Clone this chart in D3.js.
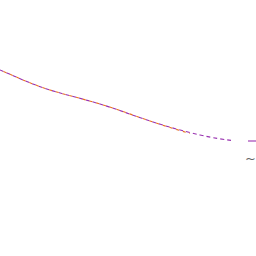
<!DOCTYPE html>
<html><head><meta charset="utf-8">
<script src="https://cdn.jsdelivr.net/npm/d3@7"></script>
<style>body{margin:0;background:#fff}svg{display:block}</style>
</head><body>
<script>
const xs = [0,15,50,100,150,200,232];
const purpleVals = [186,179.5,166,152,135,121,115.5];
const orangeVals = [186,179.5,166,152,135,122.5];
const orangeXs = [0,15,50,100,150,190];
const legendLabel = "~";

const W = 256, H = 256;
const svg = d3.select("body").append("svg").attr("width", W).attr("height", H);
const x = d3.scaleLinear().domain([0, 256]).range([0, 256]);
const y = d3.scaleLinear().domain([0, 256]).range([256, 0]);
const line = d3.line().x(d => x(d[0])).y(d => y(d[1])).curve(d3.curveNatural);

svg.append("path").datum(xs.map((v,i)=>[v,purpleVals[i]]))
  .attr("d", line).attr("fill","none").attr("stroke","#9932b0")
  .attr("stroke-width",1.1).attr("stroke-dasharray","4,3");
svg.append("path").datum(orangeVals.map((v,i)=>[orangeXs[i],v]))
  .attr("d", line).attr("fill","none").attr("stroke","#e8701f")
  .attr("stroke-width",1.1).attr("stroke-dasharray","3,4").attr("stroke-dashoffset",-4);

svg.append("line").attr("x1",248).attr("x2",256).attr("y1",141).attr("y2",141)
  .attr("stroke","#9932b0").attr("stroke-width",1.1);
svg.append("text").attr("x",245).attr("y",163).attr("font-family","DejaVu Sans")
  .attr("font-size",13).attr("fill","#666").text(legendLabel);
</script>
</body></html>
